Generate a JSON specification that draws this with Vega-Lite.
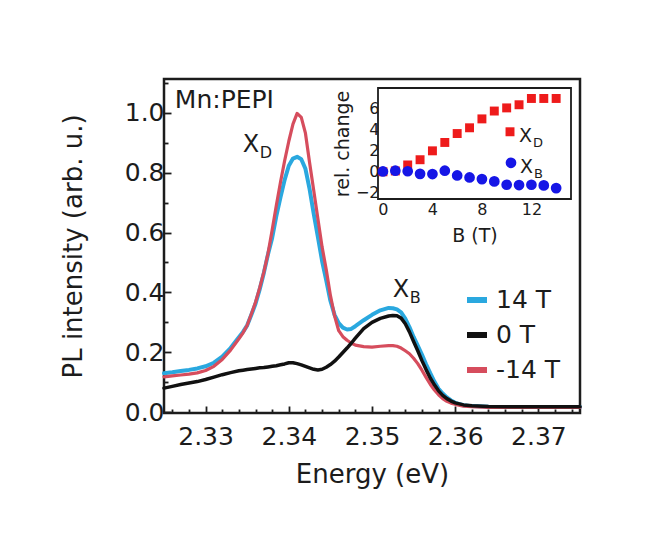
{
  "$schema": "https://vega.github.io/schema/vega-lite/v6.json",
  "width": 416,
  "height": 334,
  "autosize": {"type": "none"},
  "padding": {"left": 164, "top": 79, "right": 68, "bottom": 126},
  "background": "white",
  "config": {
    "view": {"stroke": "#1c1c1c", "strokeWidth": 2.5},
    "font": "DejaVu Sans",
    "axis": {
      "grid": false,
      "domain": false,
      "zindex": 1,
      "labelFont": "DejaVu Sans",
      "titleFont": "DejaVu Sans",
      "labelColor": "#1c1c1c",
      "titleColor": "#1c1c1c",
      "tickColor": "#1c1c1c",
      "titleFontWeight": "normal",
      "tickWidth": 1.8,
      "labelOverlap": false,
      "labelFlush": false
    }
  },
  "datasets": {
    "spectra": [
      {"s": "14 T", "E": 2.325, "I": 0.130}, {"s": "14 T", "E": 2.326, "I": 0.133}, {"s": "14 T", "E": 2.327, "I": 0.137},
      {"s": "14 T", "E": 2.328, "I": 0.141}, {"s": "14 T", "E": 2.329, "I": 0.146}, {"s": "14 T", "E": 2.330, "I": 0.153},
      {"s": "14 T", "E": 2.331, "I": 0.165}, {"s": "14 T", "E": 2.332, "I": 0.185}, {"s": "14 T", "E": 2.333, "I": 0.214},
      {"s": "14 T", "E": 2.334, "I": 0.250}, {"s": "14 T", "E": 2.3345, "I": 0.268}, {"s": "14 T", "E": 2.335, "I": 0.290},
      {"s": "14 T", "E": 2.3355, "I": 0.325}, {"s": "14 T", "E": 2.336, "I": 0.362}, {"s": "14 T", "E": 2.3365, "I": 0.410},
      {"s": "14 T", "E": 2.337, "I": 0.465}, {"s": "14 T", "E": 2.3375, "I": 0.527}, {"s": "14 T", "E": 2.338, "I": 0.582},
      {"s": "14 T", "E": 2.3385, "I": 0.655}, {"s": "14 T", "E": 2.339, "I": 0.718}, {"s": "14 T", "E": 2.3395, "I": 0.776},
      {"s": "14 T", "E": 2.340, "I": 0.823}, {"s": "14 T", "E": 2.3405, "I": 0.847}, {"s": "14 T", "E": 2.341, "I": 0.853},
      {"s": "14 T", "E": 2.3415, "I": 0.845}, {"s": "14 T", "E": 2.342, "I": 0.813}, {"s": "14 T", "E": 2.3425, "I": 0.745},
      {"s": "14 T", "E": 2.343, "I": 0.662}, {"s": "14 T", "E": 2.3435, "I": 0.585}, {"s": "14 T", "E": 2.344, "I": 0.505},
      {"s": "14 T", "E": 2.3445, "I": 0.440}, {"s": "14 T", "E": 2.345, "I": 0.372}, {"s": "14 T", "E": 2.3455, "I": 0.325},
      {"s": "14 T", "E": 2.346, "I": 0.297}, {"s": "14 T", "E": 2.3465, "I": 0.282}, {"s": "14 T", "E": 2.347, "I": 0.276},
      {"s": "14 T", "E": 2.3475, "I": 0.278}, {"s": "14 T", "E": 2.348, "I": 0.287}, {"s": "14 T", "E": 2.349, "I": 0.307},
      {"s": "14 T", "E": 2.350, "I": 0.325}, {"s": "14 T", "E": 2.351, "I": 0.340}, {"s": "14 T", "E": 2.352, "I": 0.348},
      {"s": "14 T", "E": 2.3525, "I": 0.347}, {"s": "14 T", "E": 2.353, "I": 0.343}, {"s": "14 T", "E": 2.3535, "I": 0.333},
      {"s": "14 T", "E": 2.354, "I": 0.312}, {"s": "14 T", "E": 2.3545, "I": 0.284}, {"s": "14 T", "E": 2.355, "I": 0.251},
      {"s": "14 T", "E": 2.3555, "I": 0.222}, {"s": "14 T", "E": 2.356, "I": 0.192}, {"s": "14 T", "E": 2.3565, "I": 0.160},
      {"s": "14 T", "E": 2.357, "I": 0.130}, {"s": "14 T", "E": 2.3575, "I": 0.102}, {"s": "14 T", "E": 2.358, "I": 0.078},
      {"s": "14 T", "E": 2.3585, "I": 0.062}, {"s": "14 T", "E": 2.359, "I": 0.049}, {"s": "14 T", "E": 2.3595, "I": 0.039},
      {"s": "14 T", "E": 2.360, "I": 0.031}, {"s": "14 T", "E": 2.361, "I": 0.023}, {"s": "14 T", "E": 2.362, "I": 0.020},
      {"s": "14 T", "E": 2.364, "I": 0.018}, {"s": "14 T", "E": 2.367, "I": 0.017}, {"s": "14 T", "E": 2.370, "I": 0.017},
      {"s": "14 T", "E": 2.375, "I": 0.017},

      {"s": "-14 T", "E": 2.325, "I": 0.118}, {"s": "-14 T", "E": 2.326, "I": 0.121}, {"s": "-14 T", "E": 2.327, "I": 0.124},
      {"s": "-14 T", "E": 2.328, "I": 0.127}, {"s": "-14 T", "E": 2.329, "I": 0.131}, {"s": "-14 T", "E": 2.330, "I": 0.139},
      {"s": "-14 T", "E": 2.331, "I": 0.153}, {"s": "-14 T", "E": 2.332, "I": 0.176}, {"s": "-14 T", "E": 2.333, "I": 0.207},
      {"s": "-14 T", "E": 2.334, "I": 0.245}, {"s": "-14 T", "E": 2.3345, "I": 0.265}, {"s": "-14 T", "E": 2.335, "I": 0.290},
      {"s": "-14 T", "E": 2.3355, "I": 0.328}, {"s": "-14 T", "E": 2.336, "I": 0.367}, {"s": "-14 T", "E": 2.3365, "I": 0.415},
      {"s": "-14 T", "E": 2.337, "I": 0.468}, {"s": "-14 T", "E": 2.3375, "I": 0.530}, {"s": "-14 T", "E": 2.338, "I": 0.608},
      {"s": "-14 T", "E": 2.3385, "I": 0.690}, {"s": "-14 T", "E": 2.339, "I": 0.768}, {"s": "-14 T", "E": 2.3395, "I": 0.840},
      {"s": "-14 T", "E": 2.340, "I": 0.905}, {"s": "-14 T", "E": 2.3405, "I": 0.962}, {"s": "-14 T", "E": 2.341, "I": 0.998},
      {"s": "-14 T", "E": 2.3415, "I": 0.985}, {"s": "-14 T", "E": 2.342, "I": 0.932}, {"s": "-14 T", "E": 2.3425, "I": 0.833},
      {"s": "-14 T", "E": 2.343, "I": 0.740}, {"s": "-14 T", "E": 2.3435, "I": 0.645}, {"s": "-14 T", "E": 2.344, "I": 0.552},
      {"s": "-14 T", "E": 2.3445, "I": 0.476}, {"s": "-14 T", "E": 2.345, "I": 0.390}, {"s": "-14 T", "E": 2.3455, "I": 0.322},
      {"s": "-14 T", "E": 2.346, "I": 0.272}, {"s": "-14 T", "E": 2.3465, "I": 0.252}, {"s": "-14 T", "E": 2.347, "I": 0.240},
      {"s": "-14 T", "E": 2.3475, "I": 0.231}, {"s": "-14 T", "E": 2.348, "I": 0.224}, {"s": "-14 T", "E": 2.349, "I": 0.219},
      {"s": "-14 T", "E": 2.350, "I": 0.217}, {"s": "-14 T", "E": 2.351, "I": 0.220}, {"s": "-14 T", "E": 2.352, "I": 0.222},
      {"s": "-14 T", "E": 2.3525, "I": 0.222}, {"s": "-14 T", "E": 2.353, "I": 0.220}, {"s": "-14 T", "E": 2.3535, "I": 0.214},
      {"s": "-14 T", "E": 2.354, "I": 0.205}, {"s": "-14 T", "E": 2.3545, "I": 0.195}, {"s": "-14 T", "E": 2.355, "I": 0.180},
      {"s": "-14 T", "E": 2.3555, "I": 0.162}, {"s": "-14 T", "E": 2.356, "I": 0.140}, {"s": "-14 T", "E": 2.3565, "I": 0.116},
      {"s": "-14 T", "E": 2.357, "I": 0.093}, {"s": "-14 T", "E": 2.3575, "I": 0.074}, {"s": "-14 T", "E": 2.358, "I": 0.058},
      {"s": "-14 T", "E": 2.3585, "I": 0.045}, {"s": "-14 T", "E": 2.359, "I": 0.036}, {"s": "-14 T", "E": 2.3595, "I": 0.030},
      {"s": "-14 T", "E": 2.360, "I": 0.026}, {"s": "-14 T", "E": 2.361, "I": 0.020}, {"s": "-14 T", "E": 2.362, "I": 0.018},
      {"s": "-14 T", "E": 2.364, "I": 0.016}, {"s": "-14 T", "E": 2.367, "I": 0.016}, {"s": "-14 T", "E": 2.370, "I": 0.016},
      {"s": "-14 T", "E": 2.375, "I": 0.016},

      {"s": "0 T", "E": 2.325, "I": 0.080}, {"s": "0 T", "E": 2.326, "I": 0.086}, {"s": "0 T", "E": 2.327, "I": 0.092},
      {"s": "0 T", "E": 2.328, "I": 0.097}, {"s": "0 T", "E": 2.329, "I": 0.102}, {"s": "0 T", "E": 2.330, "I": 0.109},
      {"s": "0 T", "E": 2.331, "I": 0.117}, {"s": "0 T", "E": 2.332, "I": 0.125}, {"s": "0 T", "E": 2.333, "I": 0.132},
      {"s": "0 T", "E": 2.334, "I": 0.138}, {"s": "0 T", "E": 2.3345, "I": 0.140}, {"s": "0 T", "E": 2.335, "I": 0.142},
      {"s": "0 T", "E": 2.3355, "I": 0.144}, {"s": "0 T", "E": 2.336, "I": 0.146}, {"s": "0 T", "E": 2.3365, "I": 0.148},
      {"s": "0 T", "E": 2.337, "I": 0.149}, {"s": "0 T", "E": 2.3375, "I": 0.151}, {"s": "0 T", "E": 2.338, "I": 0.153},
      {"s": "0 T", "E": 2.3385, "I": 0.155}, {"s": "0 T", "E": 2.339, "I": 0.158}, {"s": "0 T", "E": 2.3395, "I": 0.161},
      {"s": "0 T", "E": 2.340, "I": 0.165}, {"s": "0 T", "E": 2.3405, "I": 0.165}, {"s": "0 T", "E": 2.341, "I": 0.162},
      {"s": "0 T", "E": 2.3415, "I": 0.158}, {"s": "0 T", "E": 2.342, "I": 0.153}, {"s": "0 T", "E": 2.3425, "I": 0.148},
      {"s": "0 T", "E": 2.343, "I": 0.143}, {"s": "0 T", "E": 2.3435, "I": 0.141}, {"s": "0 T", "E": 2.344, "I": 0.143},
      {"s": "0 T", "E": 2.3445, "I": 0.150}, {"s": "0 T", "E": 2.345, "I": 0.159}, {"s": "0 T", "E": 2.3455, "I": 0.170},
      {"s": "0 T", "E": 2.346, "I": 0.184}, {"s": "0 T", "E": 2.3465, "I": 0.199}, {"s": "0 T", "E": 2.347, "I": 0.214},
      {"s": "0 T", "E": 2.3475, "I": 0.230}, {"s": "0 T", "E": 2.348, "I": 0.247}, {"s": "0 T", "E": 2.349, "I": 0.279},
      {"s": "0 T", "E": 2.350, "I": 0.300}, {"s": "0 T", "E": 2.351, "I": 0.313}, {"s": "0 T", "E": 2.352, "I": 0.321},
      {"s": "0 T", "E": 2.3525, "I": 0.323}, {"s": "0 T", "E": 2.353, "I": 0.322}, {"s": "0 T", "E": 2.3535, "I": 0.314},
      {"s": "0 T", "E": 2.354, "I": 0.295}, {"s": "0 T", "E": 2.3545, "I": 0.268}, {"s": "0 T", "E": 2.355, "I": 0.236},
      {"s": "0 T", "E": 2.3555, "I": 0.205}, {"s": "0 T", "E": 2.356, "I": 0.172}, {"s": "0 T", "E": 2.3565, "I": 0.142},
      {"s": "0 T", "E": 2.357, "I": 0.114}, {"s": "0 T", "E": 2.3575, "I": 0.091}, {"s": "0 T", "E": 2.358, "I": 0.071},
      {"s": "0 T", "E": 2.3585, "I": 0.056}, {"s": "0 T", "E": 2.359, "I": 0.045}, {"s": "0 T", "E": 2.3595, "I": 0.037},
      {"s": "0 T", "E": 2.360, "I": 0.031}, {"s": "0 T", "E": 2.361, "I": 0.024}, {"s": "0 T", "E": 2.362, "I": 0.021},
      {"s": "0 T", "E": 2.364, "I": 0.019}, {"s": "0 T", "E": 2.367, "I": 0.018}, {"s": "0 T", "E": 2.370, "I": 0.018},
      {"s": "0 T", "E": 2.375, "I": 0.018}
    ],
    "peaknotes": [
      {"t": "X", "sub": "D", "E": 2.33448, "I": 0.868},
      {"t": "X", "sub": "B", "E": 2.3525, "I": 0.385}
    ],
    "sample": [
      {"t": "Mn:PEPI", "E": 2.3263, "I": 1.015}
    ],
    "relchange": [
      {"s": "XD", "B": 0, "rel": 0.0}, {"s": "XD", "B": 1, "rel": 0.08}, {"s": "XD", "B": 2, "rel": 0.65},
      {"s": "XD", "B": 3, "rel": 1.15}, {"s": "XD", "B": 4, "rel": 2.0}, {"s": "XD", "B": 5, "rel": 2.8},
      {"s": "XD", "B": 6, "rel": 3.65}, {"s": "XD", "B": 7, "rel": 4.2}, {"s": "XD", "B": 8, "rel": 5.05},
      {"s": "XD", "B": 9, "rel": 5.8}, {"s": "XD", "B": 10, "rel": 6.1}, {"s": "XD", "B": 11, "rel": 6.4},
      {"s": "XD", "B": 12, "rel": 7.0}, {"s": "XD", "B": 13, "rel": 7.0}, {"s": "XD", "B": 14, "rel": 7.0},
      {"s": "XB", "B": 0, "rel": 0.03}, {"s": "XB", "B": 1, "rel": 0.1}, {"s": "XB", "B": 2, "rel": 0.05},
      {"s": "XB", "B": 3, "rel": -0.2}, {"s": "XB", "B": 4, "rel": -0.22}, {"s": "XB", "B": 5, "rel": 0.1},
      {"s": "XB", "B": 6, "rel": -0.35}, {"s": "XB", "B": 7, "rel": -0.54}, {"s": "XB", "B": 8, "rel": -0.7},
      {"s": "XB", "B": 9, "rel": -0.92}, {"s": "XB", "B": 10, "rel": -1.24}, {"s": "XB", "B": 11, "rel": -1.27},
      {"s": "XB", "B": 12, "rel": -1.24}, {"s": "XB", "B": 13, "rel": -1.3}, {"s": "XB", "B": 14, "rel": -1.56}
    ],
    "insetwindow": [
      {"B": -0.4, "B2": 15.2, "rel": -2.6, "rel2": 8}
    ],
    "insetkey": [
      {"s": "XD", "sub": "D", "B": 10.27, "rel": 3.82},
      {"s": "XB", "sub": "B", "B": 10.35, "rel": 0.86}
    ]
  },
  "layer": [
    {
      "data": {"name": "spectra"},
      "encoding": {
        "x": {
          "field": "E", "type": "quantitative",
          "scale": {"domain": [2.325, 2.375], "nice": false, "zero": false},
          "axis": {
            "orient": "bottom",
            "title": "Energy (eV)",
            "values": [2.326, 2.328, 2.33, 2.332, 2.334, 2.336, 2.338, 2.34, 2.342, 2.344, 2.346, 2.348, 2.35, 2.352, 2.354, 2.356, 2.358, 2.36, 2.362, 2.364, 2.366, 2.368, 2.37, 2.372, 2.374],
            "labelExpr": "abs(datum.value * 100 - round(datum.value * 100)) < 0.001 ? format(datum.value, '.2f') : ''",
            "tickSize": {"condition": {"test": "abs(datum.value * 100 - round(datum.value * 100)) < 0.001", "value": -7}, "value": -4},
            "labelFontSize": 25,
            "labelPadding": 18,
            "titleFontSize": 26,
            "titlePadding": 9
          }
        },
        "y": {
          "field": "I", "type": "quantitative",
          "scale": {"domain": [-0.003, 1.113], "nice": false, "zero": false},
          "axis": {
            "orient": "left",
            "title": "PL intensity (arb. u.)",
            "values": [0, 0.1, 0.2, 0.3, 0.4, 0.5, 0.6, 0.7, 0.8, 0.9, 1.0, 1.1],
            "labelExpr": "abs(datum.value * 5 - round(datum.value * 5)) < 0.001 && datum.value < 1.05 ? format(datum.value, '.1f') : ''",
            "tickSize": {"condition": {"test": "abs(datum.value * 5 - round(datum.value * 5)) < 0.001", "value": -7}, "value": -4},
            "labelFontSize": 25,
            "labelPadding": 7,
            "titleFontSize": 26,
            "titlePadding": 38
          }
        }
      },
      "layer": [
        {
          "transform": [{"filter": "datum.s === '14 T'"}],
          "mark": {"type": "line", "strokeWidth": 4, "strokeCap": "round", "strokeJoin": "round"},
          "encoding": {
            "color": {
              "field": "s", "type": "nominal",
              "scale": {"domain": ["14 T", "0 T", "-14 T"], "range": ["#2aa8df", "#111111", "#d64d5d"]},
              "legend": {
                "orient": "none", "legendX": 300, "legendY": 208, "title": null,
                "symbolType": "stroke", "symbolStrokeWidth": 6, "symbolSize": 400,
                "labelFontSize": 25, "labelFont": "DejaVu Sans", "labelColor": "#1c1c1c",
                "labelOffset": 6, "rowPadding": 9
              }
            }
          }
        },
        {
          "transform": [{"filter": "datum.s === '-14 T'"}],
          "mark": {"type": "line", "strokeWidth": 3.2, "strokeCap": "round", "strokeJoin": "round"},
          "encoding": {"color": {"field": "s", "type": "nominal"}}
        },
        {
          "transform": [{"filter": "datum.s === '0 T'"}],
          "mark": {"type": "line", "strokeWidth": 3.5, "strokeCap": "round", "strokeJoin": "round"},
          "encoding": {"color": {"field": "s", "type": "nominal"}}
        },
        {
          "data": {"name": "sample"},
          "mark": {"type": "text", "align": "left", "baseline": "alphabetic", "fontSize": 25, "color": "#1c1c1c"},
          "encoding": {"text": {"field": "t"}}
        },
        {
          "data": {"name": "peaknotes"},
          "mark": {"type": "text", "align": "left", "baseline": "alphabetic", "fontSize": 24, "color": "#1c1c1c"},
          "encoding": {"text": {"field": "t"}}
        },
        {
          "data": {"name": "peaknotes"},
          "mark": {"type": "text", "align": "left", "baseline": "alphabetic", "fontSize": 16, "color": "#1c1c1c", "dx": 17, "dy": 6},
          "encoding": {"text": {"field": "sub"}}
        }
      ]
    },
    {
      "data": {"name": "relchange"},
      "encoding": {
        "x": {
          "field": "B", "type": "quantitative",
          "scale": {"domain": [-0.4, 15.2], "range": [214, 407], "nice": false, "zero": false},
          "axis": {
            "orient": "bottom", "offset": -214,
            "title": "B (T)",
            "values": [0, 2, 4, 6, 8, 10, 12, 14],
            "labelExpr": "datum.value % 4 === 0 ? datum.label : ''",
            "tickSize": {"condition": {"test": "datum.value % 4 === 0", "value": -5}, "value": -3},
            "tickWidth": 1.3,
            "labelFontSize": 16, "labelPadding": 7,
            "titleFontSize": 19, "titlePadding": 7
          }
        },
        "y": {
          "field": "rel", "type": "quantitative",
          "scale": {"domain": [-2.6, 8], "range": [120, 9], "nice": false, "zero": false},
          "axis": {
            "orient": "left", "offset": -214,
            "title": "rel. change",
            "values": [-2, -1, 0, 1, 2, 3, 4, 5, 6, 7],
            "labelExpr": "datum.value % 2 === 0 ? datum.label : ''",
            "tickSize": {"condition": {"test": "datum.value % 2 === 0", "value": -5}, "value": -3},
            "tickWidth": 1.3,
            "labelFontSize": 16, "labelPadding": 4,
            "titleFontSize": 19, "titlePadding": 3
          }
        }
      },
      "layer": [
        {
          "data": {"name": "insetwindow"},
          "mark": {"type": "rect", "fill": "white", "stroke": "#1c1c1c", "strokeWidth": 1.8},
          "encoding": {"x2": {"field": "B2"}, "y2": {"field": "rel2"}}
        },
        {
          "transform": [{"filter": "datum.s === 'XD'"}],
          "mark": {"type": "square", "size": 80, "filled": true, "color": "#ee1b1b", "opacity": 1}
        },
        {
          "transform": [{"filter": "datum.s === 'XB'"}],
          "mark": {"type": "circle", "size": 115, "color": "#1616e6", "opacity": 1}
        },
        {
          "data": {"name": "insetkey"},
          "transform": [{"filter": "datum.s === 'XD'"}],
          "mark": {"type": "square", "size": 80, "filled": true, "color": "#ee1b1b", "opacity": 1}
        },
        {
          "data": {"name": "insetkey"},
          "transform": [{"filter": "datum.s === 'XB'"}],
          "mark": {"type": "circle", "size": 115, "color": "#1616e6", "opacity": 1}
        },
        {
          "data": {"name": "insetkey"},
          "mark": {"type": "text", "text": "X", "align": "left", "baseline": "alphabetic", "fontSize": 19, "color": "#1c1c1c", "dx": 9, "dy": 10}
        },
        {
          "data": {"name": "insetkey"},
          "mark": {"type": "text", "align": "left", "baseline": "alphabetic", "fontSize": 13, "color": "#1c1c1c", "dx": 23, "dy": 15},
          "encoding": {"text": {"field": "sub"}}
        }
      ]
    }
  ],
  "resolve": {
    "scale": {"x": "independent", "y": "independent"},
    "axis": {"x": "independent", "y": "independent"}
  }
}
